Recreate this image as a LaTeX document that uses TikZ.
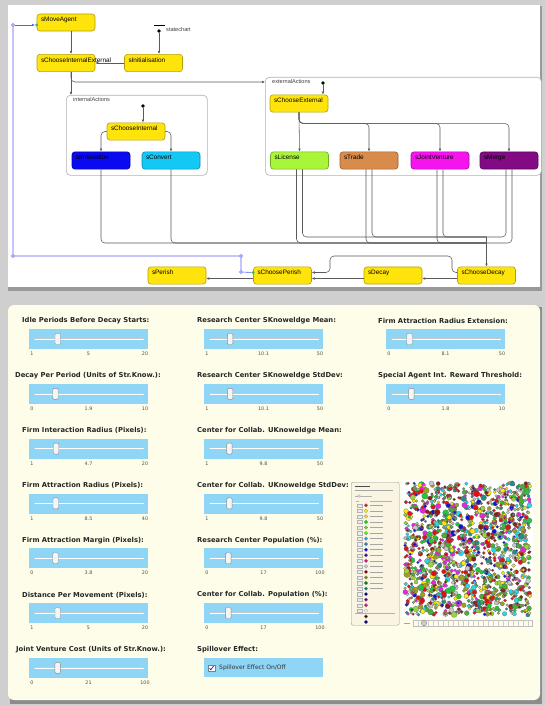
\documentclass[tikz,border=0pt]{standalone}
\usepackage{fontspec}
\setmainfont{Liberation Sans}
\newfontfamily\dvs{DejaVu Sans}
\usetikzlibrary{arrows.meta,positioning,calc}
\definecolor{cY}{HTML}{FFE40C}
\definecolor{cInn}{HTML}{0A0AF0}
\definecolor{cCnv}{HTML}{14C8F5}
\definecolor{cLic}{HTML}{A8F53A}
\definecolor{cTrd}{HTML}{D98B4C}
\definecolor{cJV}{HTML}{F514EE}
\definecolor{cMrg}{HTML}{820A85}
\definecolor{cTr}{HTML}{5A5A5A}
\definecolor{cBl}{HTML}{5C5CF0}
\definecolor{cGr}{HTML}{2DB84A}
\definecolor{cSl}{HTML}{8ED5F6}
\definecolor{cCr}{HTML}{FDFDE9}
\definecolor{cLg}{HTML}{FAF5E2}
\definecolor{cBg}{HTML}{CFCFCF}
\definecolor{cDk}{HTML}{3A0C0C}
\definecolor{sc1}{HTML}{E01010}
\definecolor{sc2}{HTML}{FFE80A}
\definecolor{sc3}{HTML}{22C83A}
\definecolor{sc4}{HTML}{9CD23A}
\definecolor{sc5}{HTML}{28D8E8}
\definecolor{sc6}{HTML}{1414D2}
\definecolor{sc7}{HTML}{E822E0}
\definecolor{sc8}{HTML}{1E9088}
\definecolor{sc9}{HTML}{8C1E14}
\definecolor{sc10}{HTML}{D81818}
\definecolor{sc11}{HTML}{48B030}
\definecolor{sc12}{HTML}{A0A020}
\definecolor{sc13}{HTML}{C8C8C8}
\tikzset{
  stt/.style={rounded corners=3pt,draw=#1!70!black,fill=#1,line width=.6pt,
    minimum width=58pt,minimum height=17pt,text width=50pt,inner xsep=4pt,
    align=left,text depth=6pt,font=\fontsize{6.4}{7}\selectfont},
  grp/.style={rounded corners=4pt,draw=black!30,fill=white,line width=.6pt,
    anchor=north west,inner sep=0pt},
  grpt/.style={anchor=north west,inner sep=0pt,text=black!75,
    font=\fontsize{5.6}{6}\selectfont},
  dot/.style={circle,fill=black,inner sep=0pt,minimum size=3.6pt},
  odot/.style={circle,draw=cBl,fill=white,inner sep=0pt,minimum size=3pt,line width=.4pt},
  gdot/.style={circle,fill=cGr,inner sep=0pt,minimum size=3pt},
  tr/.style={-{Latex[length=3pt,width=2.6pt]},draw=cTr,line width=.55pt,rounded corners=4pt},
  ln/.style={draw=cTr,line width=.55pt,rounded corners=4pt},
  loopb/.style={-{Latex[length=3pt,width=2.6pt]},draw=cBl,line width=.6pt},
  lbl/.style={anchor=west,inner sep=0pt,text=black!85,font=\dvs\fontsize{6.8}{8}\selectfont\bfseries},
  sbox/.style={anchor=north west,fill=cSl,minimum width=119pt,minimum height=20pt,inner sep=0pt},
  track/.style={draw=black!22,line width=1.6pt,line cap=round},
  trackin/.style={draw=white,line width=.7pt,line cap=round},
  thumb/.style={rounded corners=1.2pt,draw=black!45,fill=black!4,minimum width=5.5pt,
    minimum height=11pt,inner sep=0pt,line width=.4pt},
  tick/.style={inner sep=0pt,text=black!70,font=\dvs\fontsize{4.8}{5}\selectfont},
  lgdot/.style={circle,draw=black!50,line width=.2pt,inner sep=0pt,minimum size=3.6pt},
  lgnum/.style={draw=black!30,fill=green!10!black!8,line width=.2pt,inner sep=0pt,
    minimum width=5pt,minimum height=3.2pt},
}
\begin{document}
\begin{tikzpicture}[x=1pt,y=-1pt]
  \useasboundingbox (0,0) rectangle (545,706);
  \fill[cBg] (0,0) rectangle (545,706);
  \fill[black!40] (8,6) rectangle (542,291);
  \fill[white] (8,5) rectangle (540,287);
  \fill[black!45] (10,307) rectangle (542,704);
  \fill[cCr,rounded corners=6pt] (8,305) rectangle (540,700);

  \node[grp,minimum width=141pt,minimum height=80pt] (intA) at (66,95) {};
  \node[grp,minimum width=276pt,minimum height=98pt] (extA) at (265,77) {};
  \node[grpt] (intAt) at (73,97) {internalActions};
  \node[grpt] (extAt) at (272,79) {externalActions};

  \node[stt=cY] (mv) at (66,22.5) {sMoveAgent};
  \node[stt=cY] (cie) at (66,63) {\mbox{sChooseInternalExternal}};
  \node[stt=cY] (ini) at (153.5,63) {sInitialisation};
  \node[stt=cY] (ci) at (136,131.5) {sChooseInternal};
  \node[stt=cInn] (inn) at (101,160.5) {sInnovation};
  \node[stt=cCnv] (cnv) at (171,160.5) {sConvert};
  \node[stt=cY] (ce) at (299,103.5) {sChooseExternal};
  \node[stt=cLic] (lic) at (299.5,160.5) {sLicense};
  \node[stt=cTrd] (trd) at (369,160.5) {sTrade};
  \node[stt=cJV] (jv) at (440,160.5) {sJointVenture};
  \node[stt=cMrg] (mrg) at (509,160.5) {sMerge};
  \node[stt=cY] (per) at (177,275.5) {sPerish};
  \node[stt=cY] (cp) at (282.5,275.5) {sChoosePerish};
  \node[stt=cY] (dec) at (393,275.5) {sDecay};
  \node[stt=cY] (cd) at (486.5,275.5) {sChooseDecay};

  \node[dot] (sc) at (159,31) {};
  \node[fill=black,inner sep=0pt,minimum width=11pt,minimum height=1pt] (scb) at (159,26) {};
  \node[grpt,anchor=west] (sct) at (166,30) {statechart};
  \node[dot] (ii) at (143,106) {};
  \node[dot] (ei) at (323,83) {};

  \draw[tr] (sc) -- (sc |- ini.north);
  \draw[tr] (ini.west) -- (cie.east);
  \draw[tr] ([xshift=5pt]mv.south) -- ([xshift=5pt]cie.north);
  \draw[tr] ([xshift=5pt]cie.south) -- ([xshift=5pt]cie.south |- intA.north);
  \coordinate (eIn) at ([yshift=-5pt]extA.north west);
  \draw[tr] ([xshift=5pt]cie.south) |- (eIn);
  \draw[tr] (ii) -- (ii |- ci.north);
  \draw[tr] (ci.west) -| (inn.north);
  \draw[tr] (ci.east) -| (cnv.north);
  \draw[tr] (ei) -- (ei |- ce.north);
  \draw[tr] (ce.south) -- (lic.north);
  \coordinate (eB) at ([yshift=-11pt]ce.south);
  \foreach \n in {trd,jv,mrg}
    \draw[tr] (ce.south) -- (eB) -| (\n.north);

  \coordinate (mU) at (486.5,237);
  \coordinate (mL) at (486.5,243);
  \foreach \n in {inn,cnv}
    \draw[ln] (\n.south) |- (mL);
  \foreach \n in {lic,trd,jv}{
    \draw[ln] ([xshift=-3pt]\n.south) |- (mL);
    \draw[ln] ([xshift=3pt]\n.south) |- (mU);
  }
  \draw[ln] ([xshift=-3pt]mrg.south) |- (mU);
  \draw[ln] ([xshift=3pt]mrg.south) |- (mL);
  \draw[tr] (mU) -- (cd.north);

  \draw[tr] ([yshift=-3pt]cd.west) -- ([yshift=-3pt]dec.east);
  \draw[tr] ([yshift=-3pt]dec.west) -- ([yshift=-3pt]cp.east);
  \coordinate (oR) at (452,256);
  \coordinate (oL) at (330,256);
  \draw[tr] ([yshift=3pt]cd.west) -| (oR) -- (oL) |- ([yshift=3pt]cp.east);
  \draw[tr] ([yshift=-3pt]cp.west) -- ([yshift=-3pt]per.east);

  \node[odot] (b1) at (241,272) {};
  \node[odot] (b2) at (241,256) {};
  \node[odot] (b3) at (13,256) {};
  \node[odot] (b4) at (13,25) {};
  \node[gdot] (g1) at ([yshift=3pt]cp.west) {};
  \node[gdot] (g2) at ([yshift=-2.5pt]mv.west) {};
  \draw[cBl,line width=.6pt] (g1) -- (b1) -- (b2) -- (b3) -- (b4);
  \draw[loopb] (b4) -- (g2);

  \foreach \cx/\rw/\lx/\lab/\lo/\va/\hi in {
    29/1/22/Idle Periods Before Decay Starts:/1/5/20,
    29/2/15/Decay Per Period (Units of Str.Know.):/0/1.9/10,
    29/3/22/Firm Interaction Radius (Pixels):/1/4.7/20,
    29/4/22/Firm Attraction Radius (Pixels):/1/8.5/40,
    29/5/22/Firm Attraction Margin (Pixels):/0/3.8/20,
    29/6/22/Distance Per Movement (Pixels):/1/5/20,
    29/7/16/Joint Venture Cost (Units of Str.Know.):/0/21/100,
    204/1/197/Research Center SKnoweldge Mean:/1/10.1/50,
    204/2/197/Research Center SKnoweldge StdDev:/1/10.1/50,
    204/3/197/Center for Collab. UKnoweldge Mean:/1/9.8/50,
    204/4/197/Center for Collab. UKnoweldge StdDev:/1/9.8/50,
    204/5/197/Research Center Population (\%):/0/17/100,
    204/6/197/Center for Collab. Population (\%):/0/17/100,
    386/1/378/Firm Attraction Radius Extension:/0/8.1/50,
    386/2/378/Special Agent Int. Reward Threshold:/0/1.8/10}{
    \pgfmathsetmacro\ly{321+54.8*(\rw-1)}
    \pgfmathsetmacro\tx{\cx+6+108*(\va-\lo)/(\hi-\lo)}
    \node[lbl] (lb\cx-\rw) at (\lx,\ly) {\lab};
    \node[sbox] (sl\cx-\rw) at (\cx,{\ly+8}) {};
    \draw[track] ([xshift=6pt]sl\cx-\rw.west) -- ([xshift=-5pt]sl\cx-\rw.east);
    \draw[trackin] ([xshift=6pt]sl\cx-\rw.west) -- ([xshift=-5pt]sl\cx-\rw.east);
    \node[thumb] (th\cx-\rw) at (\tx,{\ly+18}) {};
    \node[tick] (tlo\cx-\rw) at ({\cx+3},{\ly+33}) {\lo};
    \node[tick] (tva\cx-\rw) at ({\cx+59.5},{\ly+33}) {\va};
    \node[tick] (thi\cx-\rw) at ({\cx+116},{\ly+33}) {\hi};
  }

  \node[lbl] (lbsp) at (197,650) {Spillover Effect:};
  \node[sbox,minimum height=19pt] (cbx) at (204,658) {};
  \node[draw=black!50,fill=white,minimum size=6.5pt,inner sep=0pt,line width=.4pt] (cb) at (211.5,668) {};
  \draw[blue!60!black,line width=.6pt] ([shift={(-2pt,0pt)}]cb.center)
    -- ([shift={(-.6pt,-1.8pt)}]cb.center) -- ([shift={(2pt,2pt)}]cb.center);
  \node[anchor=west,inner sep=0pt,text=black!80,font=\dvs\fontsize{6}{7}\selectfont] (cbt) at (219,668) {Spillover Effect On/Off};

  \node[draw=black!40,fill=cLg,rounded corners=2pt,minimum width=48pt,minimum height=143pt,
    anchor=north west,inner sep=0pt] (lg) at (351,482) {};
  \draw[black!70,line width=.9pt] (355,486) -- (370,486);
  \draw[black!35,line width=.5pt] (355,490) -- (393,490);
  \draw[black!30,line width=.5pt] (355,496) -- (372,496);
  \node[circle,draw=black!40,fill=white,minimum size=2.6pt,inner sep=0pt] (lgk) at (359,496) {};
  \draw[black!30,line width=.4pt] (356,501) -- (359,501);
  \draw[black!30,line width=.4pt] (370,501) -- (392,501);
  \foreach \c [count=\j] in {red,yellow,yellow!80!orange,green!85!black,green!60!yellow!90!black,
      green!70!yellow,cyan,cyan!70!blue,blue,blue!50!violet,magenta,black!20,red!55!black,
      olive,green!50!black,teal,blue!60!black,violet!80!black,magenta!70!red,white}{
    \pgfmathsetmacro\yy{505.3+5.55*(\j-1)}
    \node[lgnum] (lnb\j) at (360,\yy) {};
    \node[lgdot,fill=\c] (ld\j) at (366,\yy) {};
  }
  \foreach \j in {1,...,16}
    \draw[black!35,line width=.5pt] (370,{505.3+5.55*(\j-1)}) -- (383,{505.3+5.55*(\j-1)});
  \draw[black!30,line width=.4pt] (355,613) -- (395,613);
  \node[lgdot,fill=cDk] (ld21) at (366,616.5) {};
  \node[lgdot,fill=blue!50!black] (ld22) at (366,622) {};

  \fill[white] (402,480) rectangle (533,618);
  \pgfmathsetseed{42}
  \foreach \i in {1,...,1500}{
    \pgfmathsetmacro\px{405+125*rnd}
    \pgfmathsetmacro\py{483+132*rnd}
    \pgfmathsetmacro\rr{1.3+2.1*rnd*rnd}
    \pgfmathtruncatemacro\colid{1+int(12.99*rnd)}
    \filldraw[fill=sc\colid,draw=black!60,line width=.2pt] (\px,\py) circle[radius=\rr];
  }
  \draw[black!25,line width=.4pt] (413,620) rectangle (532,626);
  \foreach \x in {418,423,...,528}
    \draw[black!20,line width=.3pt] (\x,620) -- (\x,626);
  \node[circle,draw=black!45,fill=black!20,minimum size=5.5pt,inner sep=0pt] (zk) at (424,623) {};
  \draw[black!35,line width=.5pt] (404,623) -- (410,623);
\end{tikzpicture}
\end{document}
